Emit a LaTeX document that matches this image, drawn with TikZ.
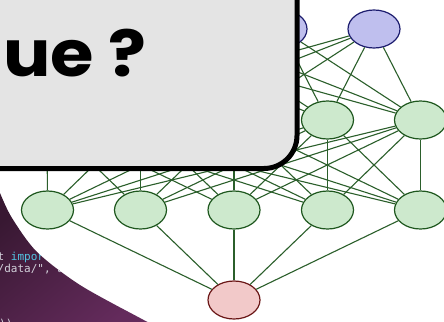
\documentclass[tikz,border=0pt]{standalone}
\usepackage{fontspec}
\usetikzlibrary{shapes.geometric}
\newfontfamily\titlefont{Poppins}[FakeStretch=1.1]
\newfontfamily\codefont{DejaVu Sans Mono}
\definecolor{boxgray}{HTML}{E4E4E4}
\definecolor{edgegreen}{HTML}{2B5F2B}
\definecolor{hidfill}{HTML}{CDE9CD}
\definecolor{hidline}{HTML}{1E571E}
\definecolor{infill}{HTML}{BFBFEE}
\definecolor{inline}{HTML}{1C1C6E}
\definecolor{outfill}{HTML}{F2C9C9}
\definecolor{outline}{HTML}{6A1616}
\definecolor{purpdark}{HTML}{381832}
\definecolor{purplight}{HTML}{642B5C}
\definecolor{codecyan}{HTML}{52C4E2}
\definecolor{codegray}{HTML}{D2D0DA}
\tikzset{
  neuron/.style={ellipse, draw, line width=1.2pt, minimum width=52pt,
    minimum height=38pt, inner sep=0pt},
  inneuron/.style={neuron, fill=infill, draw=inline},
  hidneuron/.style={neuron, fill=hidfill, draw=hidline},
  outneuron/.style={neuron, fill=outfill, draw=outline},
  edge/.style={draw=edgegreen, line width=1.1pt},
  panel/.style={draw=black, line width=5pt, fill=boxgray, rounded corners=33pt},
  codeline/.style={anchor=base west, inner sep=0pt, font=\codefont\fontsize{11}{12}\selectfont},
  titletext/.style={anchor=base east, inner sep=0pt, font=\titlefont\bfseries\fontsize{64}{66}\selectfont}
}
\begin{document}
\begin{tikzpicture}[x=1pt, y=-1pt]
  \useasboundingbox (0,0) rectangle (444,321);
  \begin{scope}
    \clip (0,0) rectangle (444,321);
    \fill[white] (0,0) rectangle (444,321);
    % dark backdrop in the lower left corner
    \path[shade, shading=axis, top color=purpdark, bottom color=purplight, shading angle=40]
      plot[smooth] coordinates {(-2,186) (0,193) (12,218) (37,252) (80,285) (140,318) (152,324)}
      -- (152,330) -- (-5,330) -- cycle;
    \begin{scope}
      \clip plot[smooth] coordinates {(-2,186) (0,193) (12,218) (37,252) (80,285) (140,318) (152,324)}
        -- (152,330) -- (-5,330) -- cycle;
      \node[codeline] (code1) at (-2.5,260) {\textcolor{codegray}{t }\textcolor{codecyan}{impor}};
      \node[codeline] (code2) at (-2.5,272) {\textcolor{codegray}{/data/", a}};
      \node[codeline] (code3) at (-1,327) {\textcolor{codegray}{))}};
    \end{scope}

    % network layers
    \foreach \i/\x in {1/94,2/188,3/281,4/374}
      \node[inneuron] (in\i) at (\x,29) {};
    \foreach \i/\x in {1/47,2/140.5,3/234,4/327.5,5/420.5}
      \node[hidneuron] (ha\i) at (\x,120) {};
    \foreach \i/\x in {1/47.5,2/140.5,3/234,4/327.5,5/420.5}
      \node[hidneuron] (hb\i) at (\x,210) {};
    \node[outneuron] (out) at (234,300) {};

    % fully connected links between consecutive layers
    \foreach \i in {1,...,4}
      \foreach \j in {1,...,5}
        \draw[edge] (in\i) -- (ha\j);
    \foreach \i in {1,...,5}
      \foreach \j in {1,...,5}
        \draw[edge] (ha\i) -- (hb\j);
    \foreach \i in {1,...,5}
      \draw[edge] (hb\i) -- (out);

    % title card laid over the upper left
    \draw[panel] (-60,-60) rectangle (297,168.5);
    \node[titletext] (title) at (147,77) {que ?};
  \end{scope}
\end{tikzpicture}
\end{document}
